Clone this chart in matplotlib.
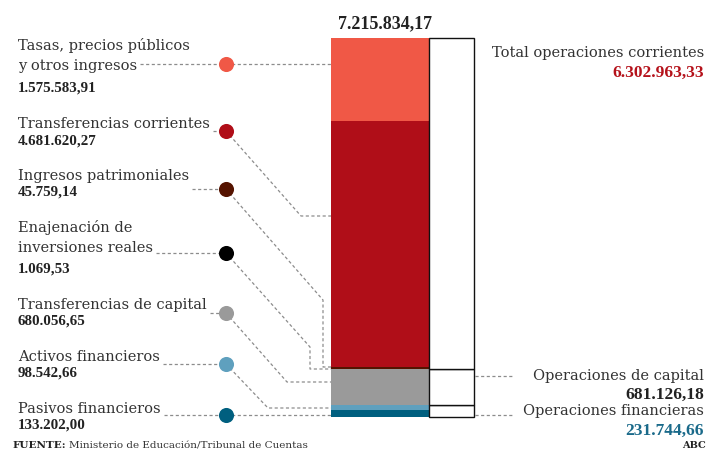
#!/usr/bin/env python3
"""Stacked bar of income by chapter with leader lines (ABC style)."""

import matplotlib

matplotlib.use("Agg")
import matplotlib.pyplot as plt
import numpy as np

# data, top of the stack first
CATEGORIES = [
    ["Tasas, precios públicos", "y otros ingresos"],
    ["Transferencias corrientes"],
    ["Ingresos patrimoniales"],
    ["Enajenación de", "inversiones reales"],
    ["Transferencias de capital"],
    ["Activos financieros"],
    ["Pasivos financieros"],
]
VALUES = [1575583.91, 4681620.27, 45759.14, 1069.53, 680056.65, 98542.66, 133202.00]
GROUPS = ["Total operaciones corrientes", "Operaciones de capital", "Operaciones financieras"]
GROUP_VALUES = [6302963.33, 681126.18, 231744.66]

COLORS = ["#f05846", "#b00e18", "#551300", "#000000", "#9a9a9a", "#5fa0be", "#005f7f"]
GROUP_VALUE_COLORS = ["#b5121b", "#222222", "#1a6a8a"]

W, H = 723, 453
BAR_TOP, BAR_BOTTOM = 38, 417
TEXT = "#333333"
DASH = "#8c8c8c"
SERIF = ["DejaVu Serif"]
NUM = ["Liberation Serif", "DejaVu Serif"]

# layout in pixel rows: label line centres, value centre, dot row, leader route
LABEL_ROWS = [[46, 66], [124], [176], [228, 248], [305], [357], [409]]
VALUE_ROWS = [88, 141, 192, 269, 321, 373, 425]
DOT_ROWS = [64, 131, 189, 253, 313, 364, 415]
ROUTES = [
    [(331, 64)],
    [(301, 216), (331, 216)],
    [(323, 300), (323, 367), (331, 367)],
    [(310, 347), (310, 369), (331, 369)],
    [(287, 382), (331, 382)],
    [(268, 408), (331, 408)],
    [(331, 415)],
]
GROUP_ROWS = [(53, 73), (376, 395), (411, 431)]
GROUP_DASH_ROWS = [None, 376, 415]


def es_number(v: float) -> str:
    s = f"{v:,.2f}"
    return s.replace(",", "X").replace(".", ",").replace("X", ".")


def main() -> int:
    total = float(np.sum(GROUP_VALUES))
    k = total / (BAR_BOTTOM - BAR_TOP)

    def ypx(p: float) -> float:
        return (BAR_BOTTOM - p) * k

    fig = plt.figure(figsize=(W / 100, H / 100), dpi=100)
    ax = fig.add_axes([0, 0, 1, 1])
    ax.set_xlim(0, W)
    ax.set_ylim(ypx(H), ypx(0))
    ax.axis("off")

    # stacked bar, bottom first
    vals = VALUES[::-1]
    cols = COLORS[::-1]
    bottoms = np.concatenate([[0], np.cumsum(vals)[:-1]])
    ax.bar(380, vals, bottom=bottoms, width=98, color=cols, linewidth=0, zorder=2)

    # outline bar with the three groups
    gvals = GROUP_VALUES[::-1]
    gbottoms = np.concatenate([[0], np.cumsum(gvals)[:-1]])
    ax.bar(451.5, gvals, bottom=gbottoms, width=45, color="white", edgecolor="#111111", linewidth=1.0, zorder=2)

    ax.text(385, ypx(24), es_number(total), ha="center", va="center", fontsize=13,
            fontweight="bold", family=NUM, color="#222222")

    last_lines = []
    for i, lines in enumerate(CATEGORIES):
        for line, row in zip(lines, LABEL_ROWS[i]):
            t = ax.text(18, ypx(row), line, ha="left", va="center", fontsize=10.5, family=SERIF, color=TEXT)
        last_lines.append(t)
        ax.text(18, ypx(VALUE_ROWS[i]), es_number(VALUES[i]), ha="left", va="center", fontsize=10.8,
                fontweight="bold", family=NUM, color="#222222")

        dot = DOT_ROWS[i]
        xs = [226] + [p[0] for p in ROUTES[i]]
        ys = [ypx(dot)] + [ypx(p[1]) for p in ROUTES[i]]
        ax.plot(xs, ys, color=DASH, linewidth=0.9, linestyle=(0, (2.5, 2)), zorder=1)
        ax.scatter([226], [ypx(dot)], s=118, color=COLORS[i], linewidths=0, zorder=3)

    for name, value, color, (r1, r2), dash in zip(GROUPS, GROUP_VALUES, GROUP_VALUE_COLORS, GROUP_ROWS, GROUP_DASH_ROWS):
        ax.text(704, ypx(r1), name, ha="right", va="center", fontsize=10.5, family=SERIF, color=TEXT)
        ax.text(704, ypx(r2), es_number(value), ha="right", va="center", fontsize=12.5,
                fontweight="bold", family=NUM, color=color)
        if dash is not None:
            ax.plot([475, 512], [ypx(dash), ypx(dash)], color=DASH, linewidth=0.9,
                    linestyle=(0, (2.5, 2)), zorder=1)

    src = ax.text(12, ypx(446), "FUENTE:", ha="left", va="center", fontsize=7.5, fontweight="bold",
                  family=SERIF, color="#222222")
    ax.text(706, ypx(446), "ABC", ha="right", va="center", fontsize=7, fontweight="bold",
            family=SERIF, color="#222222")

    # dashes from the end of each label to its dot, source text after the bold lead
    fig.canvas.draw()
    renderer = fig.canvas.get_renderer()
    for t, dot in zip(last_lines, DOT_ROWS):
        x_end = t.get_window_extent(renderer).x1 + 3
        ax.plot([x_end, 226], [ypx(dot), ypx(dot)], color=DASH, linewidth=0.9,
                linestyle=(0, (2.5, 2)), zorder=1)
    x_src = src.get_window_extent(renderer).x1 + 3
    ax.text(x_src, ypx(446), "Ministerio de Educación/Tribunal de Cuentas", ha="left", va="center",
            fontsize=7.5, family=SERIF, color="#333333")

    fig.savefig("out.png", dpi=100)
    plt.close(fig)
    return 0


if __name__ == "__main__":
    raise SystemExit(main())
